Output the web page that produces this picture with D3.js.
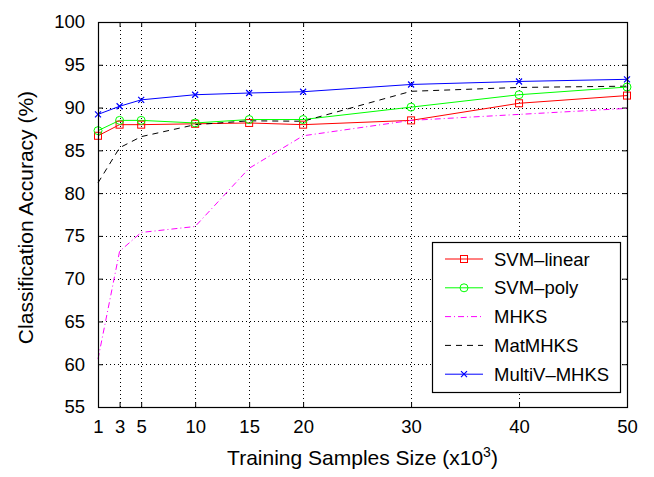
<!DOCTYPE html>
<html>
<head>
<meta charset="utf-8">
<script src="https://cdn.jsdelivr.net/npm/d3@7"></script>
<style>
  body { margin: 0; background: #fff; }
  svg { display: block; font-family: "Liberation Sans", Arial, sans-serif; }
</style>
</head>
<body>
<div id="chart"></div>
<script>
// training sample sizes (x10^3)
const sizes = [1, 3, 5, 10, 15, 20, 30, 40, 50];
const xTicks = [1, 3, 5, 10, 15, 20, 30, 40, 50];
const yTicks = [55, 60, 65, 70, 75, 80, 85, 90, 95, 100];

const svmLinear = [86.7, 88.0, 88.0, 88.1, 88.2, 88.0, 88.5, 90.5, 91.4];
const svmPoly   = [87.3, 88.5, 88.5, 88.2, 88.6, 88.6, 90.05, 91.5, 92.4];
const mhks      = [60.6, 73.2, 75.4, 76.1, 82.9, 86.7, 88.5, 89.2, 89.9];
const matMhks   = [81.2, 85.3, 86.6, 88.0, 88.45, 88.4, 91.9, 92.35, 92.5];
const multiV    = [89.2, 90.15, 90.9, 91.5, 91.7, 91.85, 92.7, 93.05, 93.3];

const seriesNames = ["SVM\u2013linear", "SVM\u2013poly", "MHKS", "MatMHKS", "MultiV\u2013MHKS"];

const series = [
  {name: seriesNames[0], values: svmLinear, color: "#ff0000", dash: null, marker: "square"},
  {name: seriesNames[1], values: svmPoly, color: "#00ff00", dash: null, marker: "circle"},
  {name: seriesNames[2], values: mhks, color: "#ff00ff", dash: "6,3,1,3", marker: null},
  {name: seriesNames[3], values: matMhks, color: "#000000", dash: "6,5", marker: null},
  {name: seriesNames[4], values: multiV, color: "#0000ff", dash: null, marker: "x"}
];

const width = 654, height = 477;
const margin = {top: 22, right: 27, bottom: 70, left: 98};
const plotW = width - margin.left - margin.right;
const plotH = height - margin.top - margin.bottom;

const svg = d3.select("#chart").append("svg")
  .attr("width", width)
  .attr("height", height);

const x = d3.scaleLinear().domain([1, 50]).range([margin.left, margin.left + plotW]);
const y = d3.scaleLinear().domain([55, 100]).range([margin.top + plotH, margin.top]);

// grid
const grid = svg.append("g").attr("class", "grid");
grid.selectAll(".gx")
  .data(xTicks.slice(1, -1))
  .enter().append("line")
    .attr("x1", d => Math.round(x(d)) + 0.5)
    .attr("x2", d => Math.round(x(d)) + 0.5)
    .attr("y1", margin.top)
    .attr("y2", margin.top + plotH)
    .attr("stroke", "#000")
    .attr("stroke-dasharray", "1,3");
grid.selectAll(".gy")
  .data(yTicks.slice(1, -1))
  .enter().append("line")
    .attr("y1", d => Math.round(y(d)) + 0.5)
    .attr("y2", d => Math.round(y(d)) + 0.5)
    .attr("x1", margin.left)
    .attr("x2", margin.left + plotW)
    .attr("stroke", "#000")
    .attr("stroke-dasharray", "1,3");

// axes (inward ticks, on all four sides)
const tick = 5;
svg.append("g")
  .attr("transform", `translate(0, ${margin.top + plotH})`)
  .call(d3.axisBottom(x).tickValues(xTicks).tickSizeInner(-tick).tickSizeOuter(0).tickPadding(13))
  .call(g => g.select(".domain").remove())
  .call(g => g.selectAll("text").attr("font-size", 18.5).attr("fill", "#000").attr("font-family", "Liberation Sans, Arial, sans-serif"));

svg.append("g")
  .attr("transform", `translate(0, ${margin.top})`)
  .call(d3.axisTop(x).tickValues(xTicks).tickSizeInner(-tick).tickSizeOuter(0).tickFormat(""))
  .call(g => g.select(".domain").remove());

svg.append("g")
  .attr("transform", `translate(${margin.left}, 0)`)
  .call(d3.axisLeft(y).tickValues(yTicks).tickSizeInner(-tick).tickSizeOuter(0).tickPadding(13))
  .call(g => g.select(".domain").remove())
  .call(g => g.selectAll("text").attr("font-size", 18.5).attr("fill", "#000").attr("font-family", "Liberation Sans, Arial, sans-serif"));

svg.append("g")
  .attr("transform", `translate(${margin.left + plotW}, 0)`)
  .call(d3.axisRight(y).tickValues(yTicks).tickSizeInner(-tick).tickSizeOuter(0).tickFormat(""))
  .call(g => g.select(".domain").remove());

// series lines
const line = d3.line()
  .x((d, i) => x(sizes[i]))
  .y(d => y(d));

const lines = svg.append("g");
series.forEach(s => {
  lines.append("path")
    .datum(s.values)
    .attr("fill", "none")
    .attr("stroke", s.color)
    .attr("stroke-width", 1)
    .attr("stroke-dasharray", s.dash)
    .attr("d", line);
});

function drawMarker(g, type, cx, cy, color) {
  if (type === "square") {
    g.append("rect")
      .attr("x", cx - 3.5).attr("y", cy - 3.5)
      .attr("width", 7).attr("height", 7)
      .attr("fill", "none").attr("stroke", color);
  } else if (type === "circle") {
    g.append("circle")
      .attr("cx", cx).attr("cy", cy).attr("r", 4)
      .attr("fill", "none").attr("stroke", color);
  } else if (type === "x") {
    g.append("path")
      .attr("d", `M${cx - 3},${cy - 3}L${cx + 3},${cy + 3}M${cx - 3},${cy + 3}L${cx + 3},${cy - 3}`)
      .attr("fill", "none").attr("stroke", color).attr("stroke-width", 1.2);
  }
}

const marks = svg.append("g");
series.forEach(s => {
  if (!s.marker) return;
  s.values.forEach((v, i) => drawMarker(marks, s.marker, x(sizes[i]), y(v), s.color));
});

// box
svg.append("rect")
  .attr("x", margin.left + 0.5)
  .attr("y", margin.top + 0.5)
  .attr("width", plotW)
  .attr("height", plotH)
  .attr("fill", "none")
  .attr("stroke", "#000")
  .attr("stroke-width", 1.2);

// axis labels
const xl = svg.append("text")
  .attr("x", margin.left + plotW / 2)
  .attr("y", 465)
  .attr("text-anchor", "middle")
  .attr("font-size", 21)
  .attr("fill", "#000");
xl.append("tspan").text("Training Samples Size (x10");
xl.append("tspan").attr("font-size", 14).attr("dy", -8).text("3");
xl.append("tspan").attr("dy", 8).text(")");

svg.append("text")
  .attr("transform", `translate(33, ${margin.top + plotH / 2 + 3}) rotate(-90)`)
  .attr("text-anchor", "middle")
  .attr("font-size", 21)
  .attr("fill", "#000")
  .text("Classification Accuracy (%)");

// legend
const legend = svg.append("g").attr("transform", "translate(432, 242)");
legend.append("rect")
  .attr("x", 0.5).attr("y", 0.5)
  .attr("width", 188).attr("height", 150)
  .attr("fill", "#fff")
  .attr("stroke", "#000")
  .attr("stroke-width", 1.2);

series.forEach((s, i) => {
  const ly = 17 + i * 28.8;
  const row = legend.append("g");
  row.append("line")
    .attr("x1", 13).attr("x2", 51)
    .attr("y1", ly).attr("y2", ly)
    .attr("stroke", s.color)
    .attr("stroke-dasharray", s.dash);
  if (s.marker) drawMarker(row, s.marker, 32, ly, s.color);
  row.append("text")
    .attr("x", 62)
    .attr("y", ly + 6.5)
    .attr("font-size", 18.5)
    .attr("fill", "#000")
    .text(s.name);
});
</script>
</body>
</html>
